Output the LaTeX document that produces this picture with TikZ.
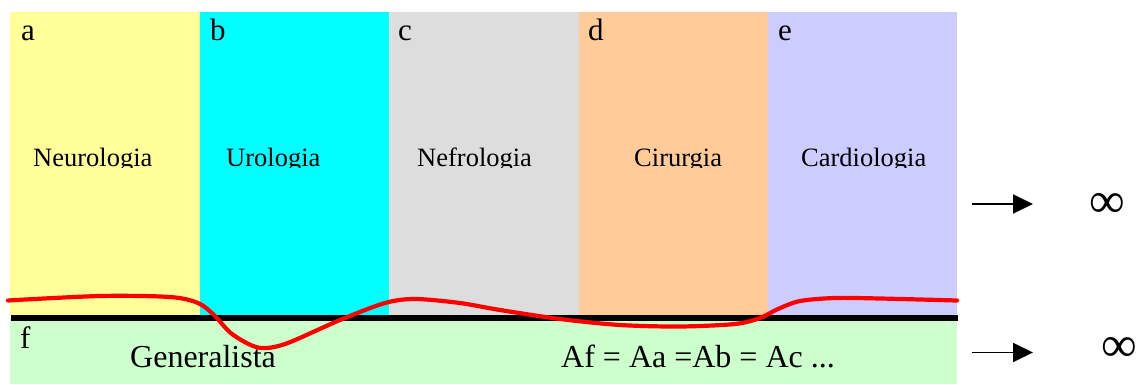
\documentclass[tikz,border=0pt]{standalone}
\usepackage{fontspec}
\setmainfont{Liberation Serif}
\usetikzlibrary{arrows.meta}
\definecolor{cola}{HTML}{FFFF99}
\definecolor{colb}{HTML}{00FFFF}
\definecolor{colc}{HTML}{DDDDDD}
\definecolor{cold}{HTML}{FFCC99}
\definecolor{cole}{HTML}{CCCCFF}
\definecolor{colf}{HTML}{CCFFCC}
\tikzset{
  letter/.style={anchor=base west, inner sep=0pt, font=\fontsize{31}{34}\selectfont},
  spec/.style={anchor=base west, inner sep=0pt, font=\fontsize{26.5}{30}\selectfont},
  bigtext/.style={anchor=base west, inner sep=0pt, font=\fontsize{32}{36}\selectfont},
  inf/.style={inner sep=0pt, font=\fontsize{50}{54}\selectfont},
  arr/.style={line width=1.8pt, -{Triangle[length=20pt,width=19pt]}},
  curve/.style={red, line width=4.2pt, line cap=round},
  bar/.style={black, line width=6pt}
}
\begin{document}
\begin{tikzpicture}[x=1pt,y=-1pt]
\useasboundingbox (0,0) rectangle (1139,385);
% columns
\fill[cola] (10,12) rectangle (200,316);
\fill[colb] (200,12) rectangle (389,316);
\fill[colc] (389,12) rectangle (579,316);
\fill[cold] (579,12) rectangle (768,316);
\fill[cole] (768,12) rectangle (957,316);
\fill[colf] (10,318) rectangle (957,384);
% letters
\node[letter] (la) at (21,41) {a};
\node[letter] (lb) at (210,41) {b};
\node[letter] (lc) at (398,41) {c};
\node[letter] (ld) at (588,41) {d};
\node[letter] (le) at (778,41) {e};
\node[letter] (lf) at (20,348) {f};
% specialty labels, clipped at their box bottom
\begin{scope}
\clip (10,12) rectangle (957,167.5);
\node[spec] (neuro) at (33,166) {Neurologia};
\node[spec] (uro) at (226,166) {Urologia};
\node[spec] (nefro) at (417,166) {Nefrologia};
\node[spec] (cir) at (634,166) {Cirurgia};
\node[spec] (cardio) at (801,166) {Cardiologia};
\end{scope}
\node[bigtext] (gen) at (130,367.5) {Generalista};
\node[bigtext] (eq) at (561,367.5) {Af = Aa =Ab = Ac ...};
% black bar
\coordinate (barL) at (11,318);
\coordinate (barR) at (958,318);
\draw[bar] (barL) -- (barR);
% red curve
\draw[curve] plot[smooth, tension=0.5] coordinates {
 (8,300.5) (100,296) (170,297) (198,303) (214,315) (232,334) (258,347.5)
 (285,344) (340,320) (385,303) (415,299) (460,303) (500,310) (560,319) (620,325)
 (680,326.5) (735,324) (760,318) (778,309) (800,301) (835,298) (880,298.5) (957,300.5)};
% arrows and infinity
\coordinate (a1s) at (972,204);
\coordinate (a1e) at (1033,204);
\coordinate (a2s) at (972,352.5);
\coordinate (a2e) at (1033,352.5);
\draw[arr] (a1s) -- (a1e);
\draw[arr] (a2s) -- (a2e);
\node[inf] (inf1) at (1107.5,205.5) {∞};
\node[inf] (inf2) at (1119,349) {∞};
\end{tikzpicture}
\end{document}
